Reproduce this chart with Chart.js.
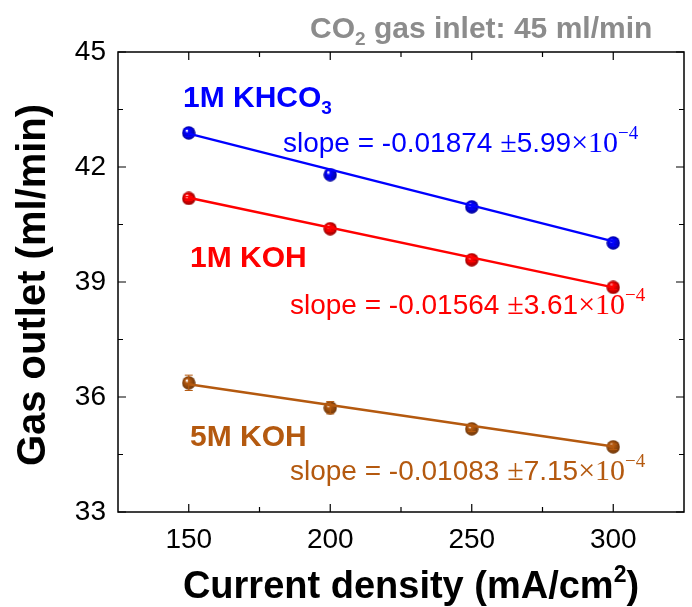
<!DOCTYPE html>
<html>
<head>
<meta charset="utf-8">
<script src="https://cdn.jsdelivr.net/npm/chart.js@4.4.0/dist/chart.umd.min.js"></script>
<style>
  html, body { margin: 0; padding: 0; background: #fff; }
  #wrap { width: 692px; height: 607px; }
</style>
</head>
<body>
<div id="wrap"><canvas id="chart" width="692" height="607"></canvas></div>
<script>
// current densities (mA/cm2) and measured outlet flow (ml/min)
const currents = [150, 200, 250, 300];
const khco3 = [42.89, 41.80, 40.96, 40.02];
const koh1 = [41.18, 40.39, 39.58, 38.86];
const koh5 = [36.37, 35.72, 35.17, 34.70];
const khco3Err = [0.10, 0.12, 0.06, 0.08];
const koh1Err = [0.05, 0.06, 0.05, 0.06];
const koh5Err = [0.20, 0.16, 0.07, 0.07];

// linear fits, end values
const fitX = [150, 300];
const khco3Fit = [42.87, 40.06];
const koh1Fit = [41.20, 38.86];
const koh5Fit = [36.33, 34.71];

const xTicks = [150, 200, 250, 300];
const yTicks = [33, 36, 39, 42, 45];

const BLUE = '#0000ff';
const RED = '#ff0000';
const BROWN = '#b4590f';

function ball(color) {
    const c = document.createElement('canvas');
    const r = 7;
    c.width = c.height = r * 2;
    const g = c.getContext('2d');
    const grad = g.createRadialGradient(r - 2, r - 2.5, 0.5, r, r, r);
    grad.addColorStop(0, '#ffffff');
    grad.addColorStop(0.25, color);
    grad.addColorStop(1, shade(color));
    g.fillStyle = grad;
    g.beginPath();
    g.arc(r, r, r - 0.3, 0, Math.PI * 2);
    g.fill();
    return c;
}

function shade(hex) {
    const n = parseInt(hex.slice(1), 16);
    const r = Math.round(((n >> 16) & 255) * 0.6);
    const gg = Math.round(((n >> 8) & 255) * 0.6);
    const b = Math.round((n & 255) * 0.6);
    return `rgb(${r},${gg},${b})`;
}

function pts(ys) {
    return currents.map((x, i) => ({ x, y: ys[i] }));
}

function fitPts(ys) {
    return fitX.map((x, i) => ({ x, y: ys[i] }));
}

const series = [
    { data: khco3, err: khco3Err, fit: khco3Fit, color: BLUE },
    { data: koh1, err: koh1Err, fit: koh1Fit, color: RED },
    { data: koh5, err: koh5Err, fit: koh5Fit, color: BROWN }
];

const datasets = [];
series.forEach(s => {
    datasets.push({
        data: fitPts(s.fit), showLine: true, borderColor: s.color, borderWidth: 2.5,
        pointRadius: 0, fill: false
    });
});
series.forEach(s => {
    datasets.push({
        data: pts(s.data), showLine: false, pointStyle: ball(s.color),
        pointRadius: 7, err: s.err, errColor: s.color
    });
});

// draws runs of text with sub/superscripts, left-aligned on a baseline
function drawRuns(ctx, x, y, runs, color) {
    ctx.fillStyle = color;
    ctx.textBaseline = 'alphabetic';
    ctx.textAlign = 'left';
    runs.forEach(r => {
        ctx.font = r.font;
        ctx.fillText(r.t, x, y + (r.dy || 0));
        x += ctx.measureText(r.t).width;
    });
    return x;
}

function runsWidth(ctx, runs) {
    let w = 0;
    runs.forEach(r => { ctx.font = r.font; w += ctx.measureText(r.t).width; });
    return w;
}

const SANS = '"Liberation Sans", Arial, sans-serif';
const SERIF = '"Liberation Serif", "Times New Roman", serif';

function slopeRuns(slope, err) {
    return [
        { t: 'slope = ' + slope + ' ', font: `28px ${SANS}` },
        { t: '\u00b1', font: `30px ${SERIF}` },
        { t: err, font: `28px ${SANS}` },
        { t: '\u00d710', font: `30px ${SERIF}` },
        { t: '\u22124', font: `19px ${SERIF}`, dy: -13 }
    ];
}

const extras = {
    id: 'extras',
    afterDatasetsDraw(chart) {
        const ctx = chart.ctx;
        const xs = chart.scales.x, ys = chart.scales.y;
        ctx.save();
        // error bars
        chart.data.datasets.forEach(ds => {
            if (!ds.err) return;
            ctx.strokeStyle = ds.errColor;
            ctx.lineWidth = 1;
            ds.data.forEach((p, i) => {
                const px = xs.getPixelForValue(p.x);
                const y1 = ys.getPixelForValue(p.y + ds.err[i]);
                const y2 = ys.getPixelForValue(p.y - ds.err[i]);
                ctx.beginPath();
                ctx.moveTo(px, y1); ctx.lineTo(px, y2);
                ctx.moveTo(px - 4, y1); ctx.lineTo(px + 4, y1);
                ctx.moveTo(px - 4, y2); ctx.lineTo(px + 4, y2);
                ctx.stroke();
            });
        });
        ctx.restore();
    },
    afterDraw(chart) {
        const ctx = chart.ctx;
        const a = chart.chartArea;
        const xs = chart.scales.x, ys = chart.scales.y;
        ctx.save();
        // frame
        ctx.strokeStyle = '#000';
        ctx.lineWidth = 1.5;
        ctx.strokeRect(a.left, a.top, a.right - a.left, a.bottom - a.top);
        // inward ticks, major and minor
        ctx.lineWidth = 1.2;
        ctx.beginPath();
        xTicks.forEach(v => {
            const px = xs.getPixelForValue(v);
            ctx.moveTo(px, a.bottom); ctx.lineTo(px, a.bottom - 8);
            ctx.moveTo(px, a.top); ctx.lineTo(px, a.top + 8);
            const pm = xs.getPixelForValue(v + 25);
            if (v + 25 < xs.max) {
                ctx.moveTo(pm, a.bottom); ctx.lineTo(pm, a.bottom - 5);
                ctx.moveTo(pm, a.top); ctx.lineTo(pm, a.top + 5);
            }
        });
        yTicks.forEach(v => {
            const py = ys.getPixelForValue(v);
            ctx.moveTo(a.left, py); ctx.lineTo(a.left + 8, py);
            ctx.moveTo(a.right, py); ctx.lineTo(a.right - 8, py);
            if (v + 1.5 < ys.max) {
                const pm = ys.getPixelForValue(v + 1.5);
                ctx.moveTo(a.left, pm); ctx.lineTo(a.left + 5, pm);
                ctx.moveTo(a.right, pm); ctx.lineTo(a.right - 5, pm);
            }
        });
        ctx.stroke();

        // title
        const B = `bold 30px ${SANS}`;
        const BS = `bold 19px ${SANS}`;
        drawRuns(ctx, 310, 38, [
            { t: 'CO', font: B },
            { t: '2', font: BS, dy: 7 },
            { t: ' gas inlet: 45 ml/min', font: B }
        ], '#8c8c8c');

        // series labels
        drawRuns(ctx, 183, 107, [
            { t: '1M KHCO', font: B },
            { t: '3', font: BS, dy: 7 }
        ], BLUE);
        drawRuns(ctx, 190, 267, [{ t: '1M KOH', font: B }], RED);
        drawRuns(ctx, 190, 446, [{ t: '5M KOH', font: B }], BROWN);

        drawRuns(ctx, 283, 152, slopeRuns('-0.01874', '5.99'), BLUE);
        drawRuns(ctx, 290, 314, slopeRuns('-0.01564', '3.61'), RED);
        drawRuns(ctx, 290, 480, slopeRuns('-0.01083', '7.15'), BROWN);

        // axis titles
        const XB = `bold 38px ${SANS}`;
        const xt = [
            { t: 'Current density (mA/cm', font: XB },
            { t: '2', font: `bold 23px ${SANS}`, dy: -16 },
            { t: ')', font: XB }
        ];
        const w = runsWidth(ctx, xt);
        drawRuns(ctx, 411 - w / 2, 598, xt, '#000');

        ctx.translate(45, 285);
        ctx.rotate(-Math.PI / 2);
        ctx.font = `bold 40px ${SANS}`;
        ctx.textAlign = 'center';
        ctx.textBaseline = 'alphabetic';
        ctx.fillStyle = '#000';
        ctx.fillText('Gas outlet (ml/min)', 0, 0);
        ctx.restore();
    }
};

new Chart(document.getElementById('chart'), {
    type: 'scatter',
    data: { datasets },
    options: {
        responsive: false,
        animation: false,
        layout: { padding: { left: 0, top: 52, right: 3, bottom: 0 } },
        plugins: { legend: { display: false }, tooltip: { enabled: false } },
        scales: {
            x: {
                type: 'linear', min: 125, max: 325,
                afterBuildTicks: s => { s.ticks = xTicks.map(v => ({ value: v })); },
                afterFit: s => { s.height = 95; },
                grid: { display: false },
                border: { display: false },
                ticks: { color: '#000', font: { size: 28, family: SANS }, padding: 3 }
            },
            y: {
                type: 'linear', min: 33, max: 45,
                afterBuildTicks: s => { s.ticks = yTicks.map(v => ({ value: v })); },
                afterFit: s => { s.width = 118; },
                grid: { display: false },
                border: { display: false },
                ticks: { color: '#000', font: { size: 28, family: SANS }, padding: 4 }
            }
        }
    },
    plugins: [extras]
});
</script>
</body>
</html>
